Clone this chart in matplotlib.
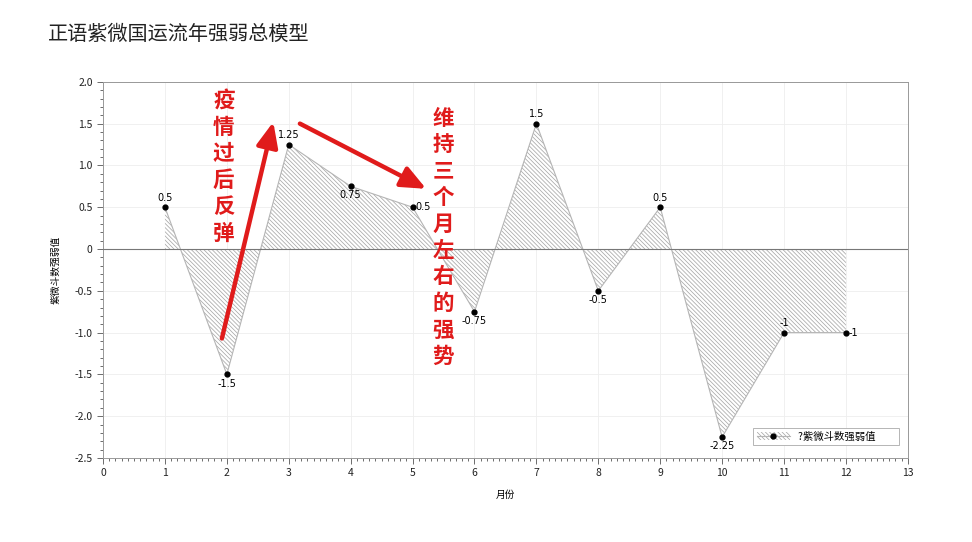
import matplotlib
matplotlib.use("Agg")
import matplotlib.pyplot as plt
from matplotlib.patches import Patch
from matplotlib.lines import Line2D
from matplotlib.ticker import MultipleLocator, FuncFormatter

plt.rcParams['font.family'] = ['Noto Sans CJK SC', 'DejaVu Sans']
plt.rcParams['hatch.color'] = '#a8a8a8'
plt.rcParams['hatch.linewidth'] = 0.55

# data
months = [1, 2, 3, 4, 5, 6, 7, 8, 9, 10, 11, 12]
values = [0.5, -1.5, 1.25, 0.75, 0.5, -0.75, 1.5, -0.5, 0.5, -2.25, -1, -1]
labels = ["0.5", "-1.5", "1.25", "0.75", "0.5", "-0.75", "1.5", "-0.5", "0.5", "-2.25", "-1", "-1"]
# where each value label sits relative to its point
label_pos = ["above", "below", "above", "below", "right", "below",
             "above", "below", "above", "below", "above", "right"]

title = "正语紫微国运流年强弱总模型"
note_left = "疫情过后反弹"
note_right = "维持三个月左右的强势"

fig = plt.figure(figsize=(9.72, 5.42), dpi=100)
ax = fig.add_axes([0.106, 0.155, 0.828, 0.694])

hatch = '\\' * 8

# hatched area between series and zero
ax.fill_between(months, values, 0, facecolor='white', edgecolor='#a8a8a8',
                hatch=hatch, linewidth=0, zorder=2)
ax.plot(months, values, color='#b5b5b5', linewidth=0.8, zorder=3)
ax.plot(months, values, 'o', color='black', markersize=3.5, zorder=4)
ax.axhline(0, color='#777777', linewidth=0.8, zorder=3)

for x, y, lab, pos in zip(months, values, labels, label_pos):
    if pos == "above":
        ax.annotate(lab, (x, y), xytext=(0, 3), textcoords='offset points',
                    ha='center', va='bottom', fontsize=7, family='DejaVu Sans')
    elif pos == "below":
        ax.annotate(lab, (x, y), xytext=(0, -3), textcoords='offset points',
                    ha='center', va='top', fontsize=7, family='DejaVu Sans')
    else:
        ax.annotate(lab, (x, y), xytext=(2, 0), textcoords='offset points',
                    ha='left', va='center', fontsize=7, family='DejaVu Sans')

ax.set_xlim(0, 13)
ax.set_ylim(-2.5, 2.0)
ax.xaxis.set_major_locator(MultipleLocator(1))
ax.xaxis.set_minor_locator(MultipleLocator(0.1))
ax.yaxis.set_major_locator(MultipleLocator(0.5))
ax.yaxis.set_minor_locator(MultipleLocator(0.1))
ax.yaxis.set_major_formatter(FuncFormatter(lambda v, p: "0" if abs(v) < 1e-9 else f"{v:.1f}"))
ax.tick_params(which='both', direction='out', colors='#555555', labelcolor='#222222',
               labelsize=7.5, width=0.6)
ax.tick_params(which='major', length=4)
ax.tick_params(which='minor', length=2)
ax.grid(True, which='major', color='#eeeeee', linewidth=0.6)
for s in ax.spines.values():
    s.set_color('#999999')
    s.set_linewidth(0.7)

ax.set_xlabel("月份", fontsize=7, labelpad=8)
ax.set_ylabel("紫微斗数强弱值", fontsize=7, labelpad=10)

# legend
handle = (Patch(facecolor='white', edgecolor='#a8a8a8', hatch=hatch, linewidth=0),
          Line2D([], [], color='#b5b5b5', linewidth=0.8, marker='o',
                 markerfacecolor='black', markeredgecolor='black', markersize=3.5))
leg = ax.legend([handle], ["?紫微斗数强弱值        "], loc='lower right', fontsize=7.5,
                fancybox=False, framealpha=1, edgecolor='#aaaaaa',
                bbox_to_anchor=(0.995, 0.02), handlelength=3.2, borderpad=0.35)
leg.get_frame().set_linewidth(0.6)

# red annotations
red = '#e01b1b'
arrow_style = '-|>,head_length=1.5,head_width=0.65'
ax.annotate("", xy=(2.75, 1.52), xytext=(1.92, -1.07),
            arrowprops=dict(arrowstyle=arrow_style, color=red, linewidth=3.2,
                            shrinkA=0, shrinkB=0), zorder=6)
ax.annotate("", xy=(5.22, 0.72), xytext=(3.18, 1.50),
            arrowprops=dict(arrowstyle=arrow_style, color=red, linewidth=3.2,
                            shrinkA=0, shrinkB=0), zorder=6)
ax.text(1.95, 1.90, "\n".join(note_left), color=red, fontsize=15.5, fontweight='bold',
        ha='center', va='top', linespacing=1.32, zorder=6)
ax.text(5.49, 1.69, "\n".join(note_right), color=red, fontsize=15.5, fontweight='bold',
        ha='center', va='top', linespacing=1.32, zorder=6)

fig.text(0.049, 0.937, title, fontsize=14.5, color='#222222', ha='left', va='center')

fig.savefig("out.png", dpi=100)
